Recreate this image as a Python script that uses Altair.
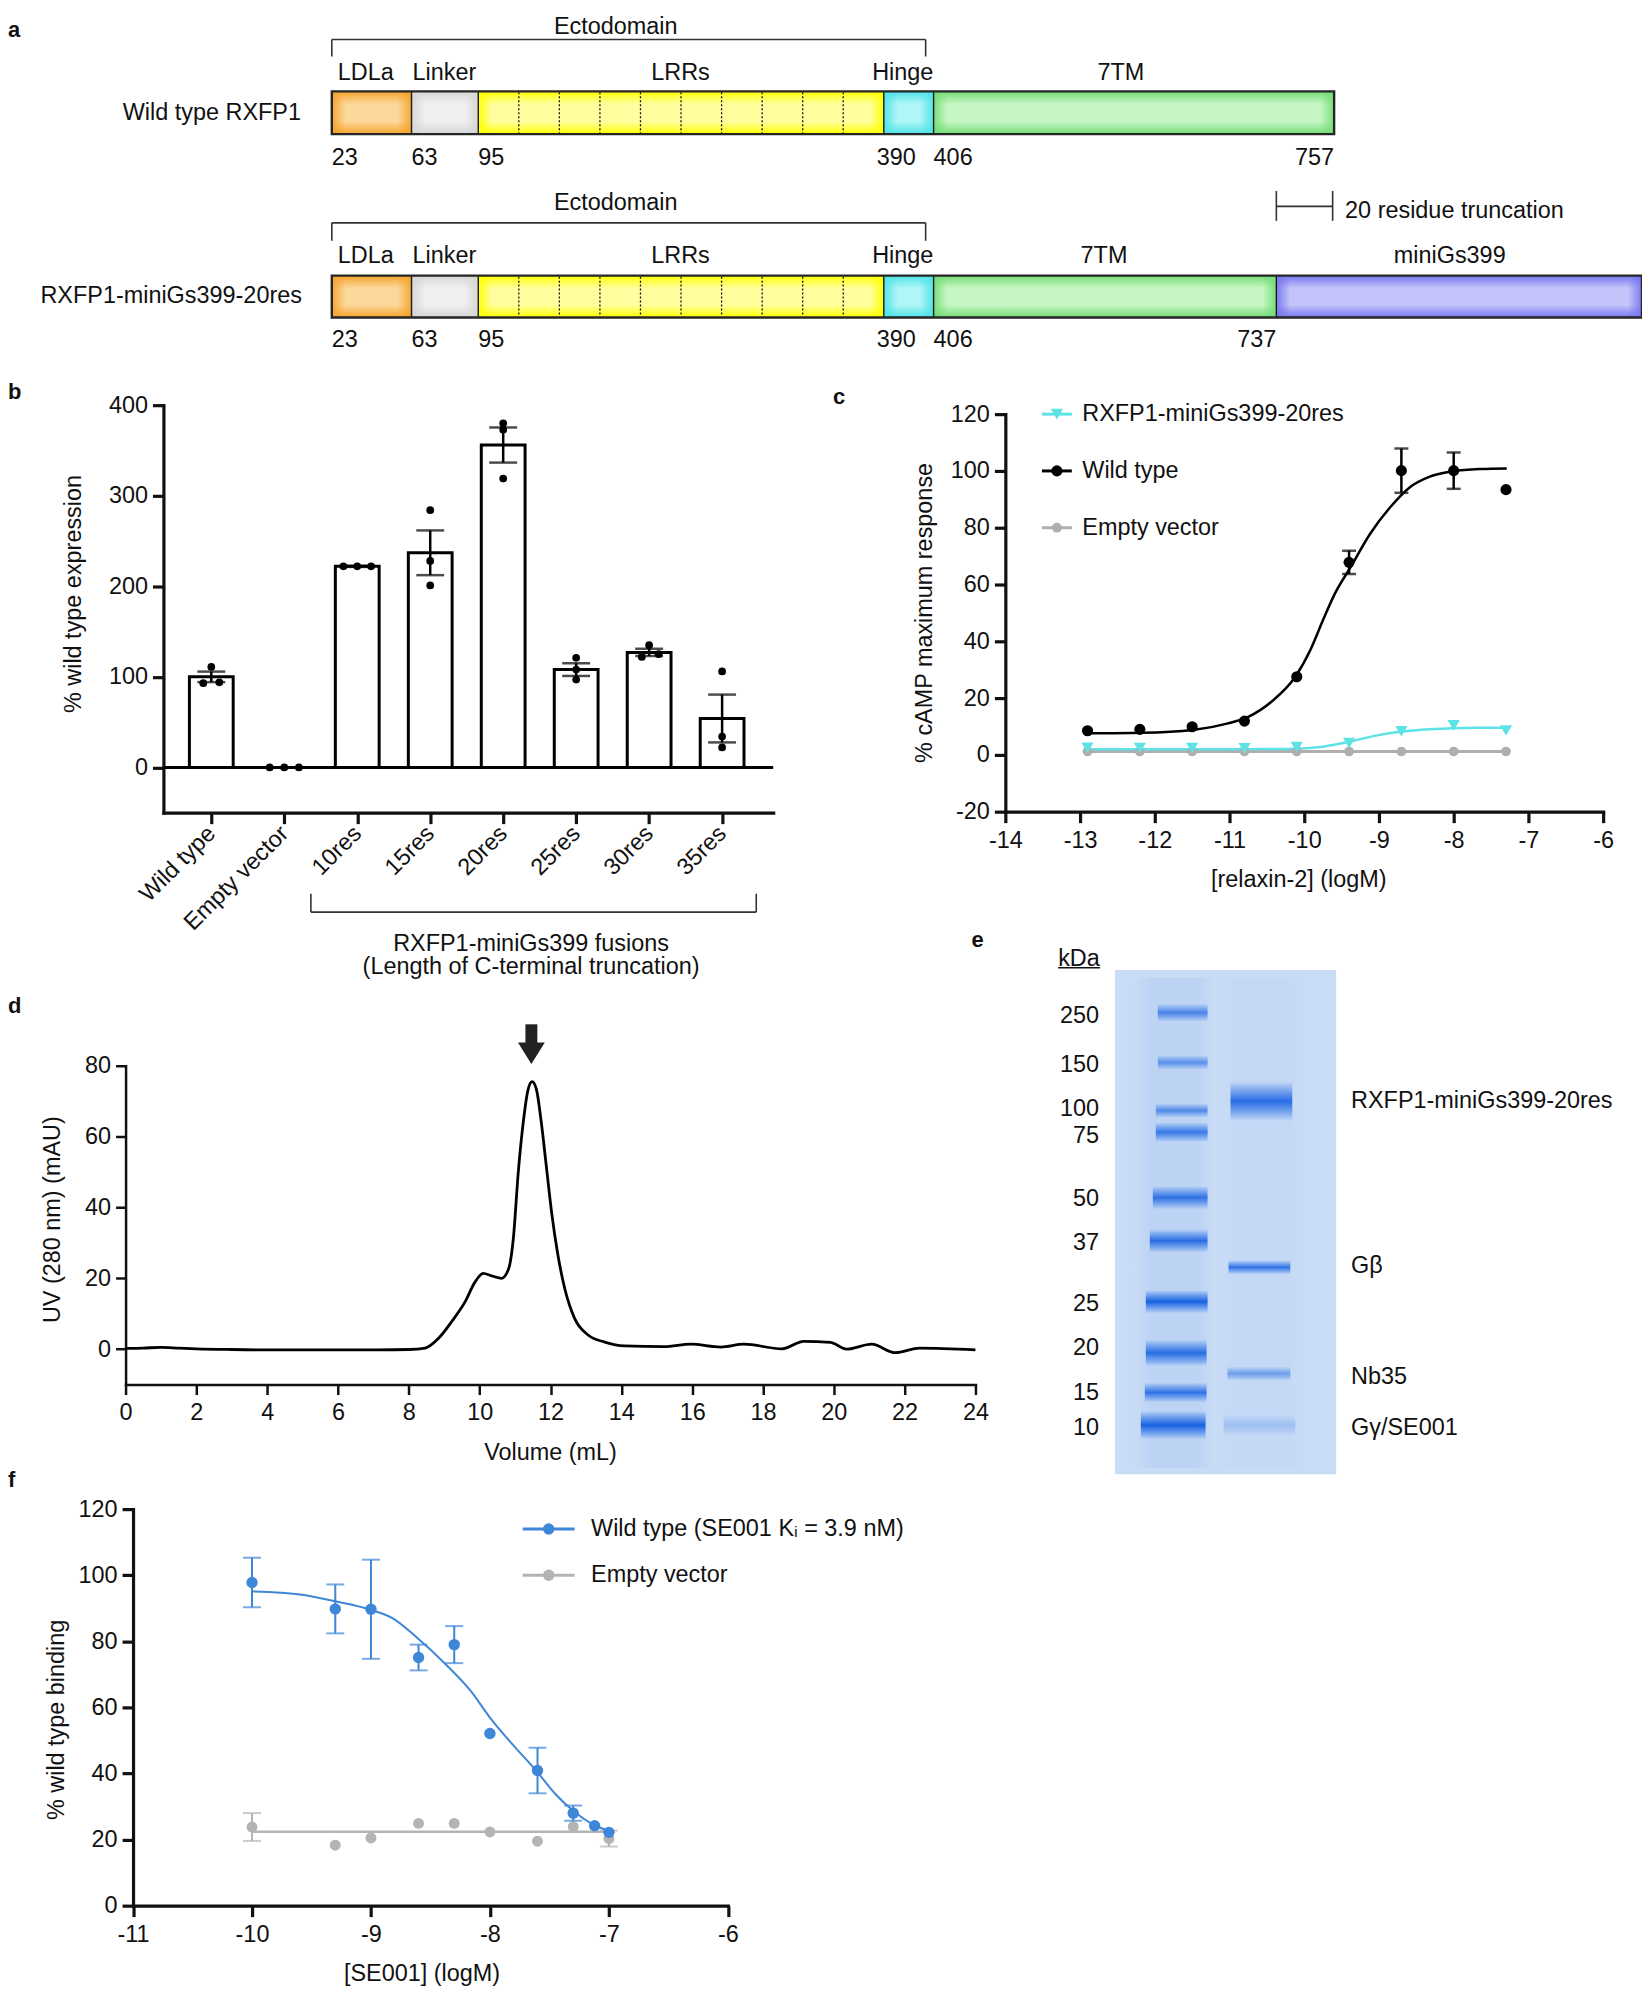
import altair as alt
import pandas as pd

FONT = "Liberation Sans"
FS = 23.5
INK = "#111111"
CYAN = "#5DE3E6"
BLUE = "#3D86D8"
GREY_C = "#AFAFAF"
GREY_F = "#B4B4B4"
W, H = 1640, 1980   # whole drawing area (page coords minus the 8px margin)

# ======================= DATA =======================
# ---- a: domain architecture ----
seg_names = ["LDLa", "Linker", "LRRs", "Hinge", "7TM", "miniGs399"]
wt_residues = [23, 63, 95, 390, 406, 757]
fusion_residues = [23, 63, 95, 390, 406, 737]
n_lrr = 10
wt_name = "Wild type RXFP1"
fusion_name = "RXFP1-miniGs399-20res"
trunc_name = "20 residue truncation"

# ---- b: expression ----
b_cats = ["Wild type", "Empty vector", "10res", "15res", "20res", "25res", "30res", "35res"]
b_mean = [100, 0, 222, 237, 356, 108, 127, 54]
b_sem = [5.8, 0, 0.6, 24.7, 19.4, 7.0, 4.0, 26.4]
b_points = [[111, 93, 94], [0, 0, 0], [222, 222, 222], [284, 228, 201],
            [380, 373, 319], [121, 108, 97], [135, 122, 125], [106, 34, 22]]
b_spread = [[0, -0.11, 0.11], [-0.2, 0, 0.2], [-0.19, 0, 0.19], [0, 0, 0],
            [0, 0, 0], [0, 0, 0], [0, -0.1, 0.13], [0, 0, 0]]

# ---- c: cAMP ----
c_logx = [-12.9, -12.2, -11.5, -10.8, -10.1, -9.4, -8.7, -8.0, -7.3]
c_wt = [8.5, 9.0, 9.9, 11.9, 27.5, 67.8, 100.1, 100.1, 93.4]
c_wt_sem = [0, 0, 0, 0, 0, 4.1, 7.8, 6.4, 0]
c_fusion = [2.5, 2.4, 2.4, 2.3, 2.8, 4.2, 8.3, 10.4, 8.6]
c_empty = [1.2, 1.2, 1.2, 1.2, 1.2, 1.2, 1.2, 1.2, 1.2]
c_wt_fit_x = [-12.89, -12.18, -11.49, -11.02, -10.75, -10.44, -10.12, -9.91, -9.75,
              -9.59, -9.38, -9.12, -8.85, -8.59, -8.32, -8.01, -7.64, -7.29]
c_wt_fit_y = [7.6, 7.8, 8.8, 11.1, 13.4, 18.7, 27.5, 37.4, 47.4,
              56.8, 66.1, 77.8, 87.2, 94.2, 98.0, 99.9, 100.7, 100.9]
c_fus_fit_x = [-12.9, -12.0, -11.0, -10.5, -10.1, -9.75, -9.38, -9.06, -8.69, -8.32, -8.01, -7.64, -7.29]
c_fus_fit_y = [2.0, 2.0, 2.0, 2.05, 2.2, 2.9, 4.7, 6.7, 8.2, 9.0, 9.4, 9.55, 9.6]
c_series = ["RXFP1-miniGs399-20res", "Wild type", "Empty vector"]

# ---- d: SEC trace ----
d_vol = [0, 0.5, 1.0, 1.5, 2.0, 3.0, 4.0, 5.0, 6.0, 7.15, 8.0, 8.46, 8.84, 9.21, 9.59, 9.87,
         10.10, 10.34, 10.62, 10.82, 10.95, 11.09, 11.23, 11.37, 11.48, 11.60, 11.74, 11.88,
         12.03, 12.21, 12.40, 12.68, 13.06, 13.53, 14.09, 15.21, 15.96, 16.81, 17.46, 18.54,
         19.15, 19.90, 20.37, 21.07, 21.73, 22.43, 24.0]
d_uv = [0.2, 0.3, 0.5, 0.3, 0.1, -0.1, -0.2, -0.2, -0.2, -0.2, -0.1, 0.3, 3.1, 7.8, 13.4, 19.0,
        21.4, 20.7, 20.0, 22.8, 31.2, 50.0, 64.0, 73.4, 75.5, 73.4, 64.0, 51.8,
        38.7, 26.5, 17.2, 8.7, 4.0, 2.0, 0.9, 0.7, 1.4, 0.6, 1.4, 0.1,
        2.2, 1.9, 0.0, 1.4, -1.0, 0.3, -0.2]
d_peak = 11.46

# ---- e: SDS-PAGE ----
ladder_kda = [250, 150, 100, 75, 50, 37, 25, 20, 15, 10]
ladder_y = [42.7, 92.7, 141, 162.7, 228.3, 271.7, 332.7, 384.3, 424, 456.7]
ladder_label_y = [46, 95, 139, 167, 230, 274, 335, 379, 424, 460]
ladder_w = [10, 8, 8, 11, 13, 13, 13, 15, 11, 16]
ladder_x1 = [43, 43, 41, 41, 38, 35, 31, 31, 30, 26]
ladder_x2 = [93, 93, 93, 93, 93, 93, 93, 92, 92, 91]
ladder_int = [0.7, 0.6, 0.65, 0.8, 0.85, 0.9, 1.0, 0.9, 0.85, 1.0]
sample_names = ["RXFP1-miniGs399-20res", "Gβ", "Nb35", "Gγ/SE001"]
sample_y = [131.7, 298.3, 405, 456.7]
sample_label_y = [131, 297, 408, 460]
sample_w = [22, 8, 8, 12]
sample_x1 = [116, 114, 113, 109]
sample_x2 = [178, 176, 176, 181]
sample_int = [0.9, 0.85, 0.5, 0.22]

# ---- f: binding ----
f_logx = [-10, -9.3, -9, -8.6, -8.3, -8, -7.6, -7.3, -7.12, -7]
f_wt = [97.8, 89.8, 89.7, 75.1, 79.0, 52.1, 40.9, 28.0, 24.2, 22.2]
f_wt_sem = [7.5, 7.4, 15.0, 3.9, 5.6, 0, 6.9, 2.3, 0, 0]
f_ev_logx = [-10, -9.3, -9, -8.6, -8.3, -8, -7.6, -7.3, -7]
f_ev = [23.8, 18.3, 20.5, 24.9, 24.9, 22.3, 19.5, 23.9, 20.3]
f_ev_sem = [4.2, 0, 0, 0, 0, 0, 0, 0, 2.4]
f_wt_fit_x = [-10, -9.58, -9.3, -9.0, -8.82, -8.61, -8.37, -8.16, -8.0, -7.81, -7.61, -7.45, -7.3, -7.14, -7.0]
f_wt_fit_y = [95.1, 94.1, 92.1, 89.5, 87.0, 81.0, 73.0, 64.9, 56.9, 48.8, 40.8, 33.8, 28.7, 24.7, 22.7]
f_ev_fit_x = [-10, -6.95]
f_ev_fit_y = [22.4, 22.4]
f_series = ["Wild type (SE001 Kᵢ = 3.9 nM)", "Empty vector"]

# ======================= HELPERS =======================
def txt(text, x, y, align="left", size=FS, bold=False, baseline="alphabetic", color=INK):
    return (alt.Chart(pd.DataFrame({"t": [text]}))
            .mark_text(font=FONT, fontSize=size, fontWeight="bold" if bold else "normal",
                       align=align, baseline=baseline, color=color)
            .encode(x=alt.value(x), y=alt.value(y), text="t:N"))


def vrule(x, y, y2, w=1.6, color="#333333"):
    return (alt.Chart(pd.DataFrame({"v": [0]})).mark_rule(strokeWidth=w, color=color)
            .encode(x=alt.value(x), y=alt.value(y), y2=alt.value(y2)))


def hrule(x, x2, y, w=1.6, color="#333333"):
    return (alt.Chart(pd.DataFrame({"v": [0]})).mark_rule(strokeWidth=w, color=color)
            .encode(x=alt.value(x), x2=alt.value(x2), y=alt.value(y)))


def mkaxis(orient, offset, values, title, tx, ty, lw=3.2, tick=11, **kw):
    p = dict(orient=orient, offset=offset, values=values, title=title, titleX=tx, titleY=ty,
             titleFont=FONT, titleFontSize=FS, titleFontWeight="normal", titleColor=INK,
             titleBaseline="alphabetic", titleAlign="center",
             labelFont=FONT, labelFontSize=FS, labelColor=INK,
             labelPadding=6 if orient == "bottom" else 5, labelFlush=False,
             labelOverlap=False, labelExpr="'' + datum.value", domainColor=INK, domainWidth=lw,
             domainCap="square", tickColor=INK, tickWidth=lw, tickSize=tick, grid=False)
    p.update(kw)
    return alt.Axis(**p)


def scale(domain, rng):
    return alt.Scale(domain=domain, range=rng, nice=False, zero=False)


def rgba(hexc, a):
    h = hexc.lstrip("#")
    return "rgba(%d,%d,%d,%s)" % (int(h[0:2], 16), int(h[2:4], 16), int(h[4:6], 16), a)


def lin(stops, horizontal=False):
    return {"gradient": "linear", "x1": 0, "y1": 0, "x2": 1 if horizontal else 0, "y2": 0 if horizontal else 1,
            "stops": [{"offset": o, "color": c} for o, c in stops]}


def caps(df, xcol, lo, hi):
    a = df[[xcol, lo]].rename(columns={lo: "v"})
    b = df[[xcol, hi]].rename(columns={hi: "v"})
    return pd.concat([a, b], ignore_index=True)

# ======================= PANEL A =======================
# schematic layout (diagram units; not to residue scale)
wt_edges = [333, 413, 480, 887, 937, 1339]
fus_edges = [333, 413, 480, 887, 937, 1281, 1648]
wt_bar = (88, 131)
fus_bar = (273, 315)
seg_colors = {
    "LDLa": ("#F4A42C", "#FDD89C"),
    "Linker": ("#D6D6D6", "#F0F0F0"),
    "LRRs": ("#FFFF00", "#FFFFA0"),
    "Hinge": ("#4FE3E8", "#B0F6F6"),
    "7TM": ("#74DD74", "#C6F6C6"),
    "miniGs399": ("#7676F0", "#C4C4FB"),
}
AX = scale([8, 1648], [0, 1640])
AY = scale([8, 403], [0, 395])


def axx(f):
    return alt.X(f, type="quantitative", scale=AX, axis=None)


def ayy(f):
    return alt.Y(f, type="quantitative", scale=AY, axis=None)


a_layers = []
bars = [(seg_names[:5], wt_edges, wt_bar), (seg_names, fus_edges, fus_bar)]
for names, edges, (top, bot) in bars:
    for i, nm in enumerate(names):
        edge, mid = seg_colors[nm]
        d = pd.DataFrame({"x": [edges[i]], "x2": [edges[i + 1]], "y": [top], "y2": [bot]})
        a_layers.append(alt.Chart(d).mark_rect(
            fill=lin([(0, edge), (0.3, mid), (0.7, mid), (1, edge)])).encode(
            x=axx("x"), x2="x2", y=ayy("y"), y2="y2"))
        f = min(0.3, 14.0 / (edges[i + 1] - edges[i]))
        a_layers.append(alt.Chart(d).mark_rect(
            fill=lin([(0, rgba(edge, 0.95)), (f, rgba(edge, 0)), (1 - f, rgba(edge, 0)), (1, rgba(edge, 0.95))],
                     horizontal=True)).encode(x=axx("x"), x2="x2", y=ayy("y"), y2="y2"))
    s, e_ = edges[2], edges[3]
    dv = pd.DataFrame({"x": [s + k * (e_ - s) / n_lrr for k in range(1, n_lrr)]})
    dv["y"] = top + 1
    dv["y2"] = bot - 1
    a_layers.append(alt.Chart(dv).mark_rule(color="#111111", strokeWidth=1.3, strokeDash=[2, 2]).encode(
        x=axx("x"), y=ayy("y"), y2="y2"))
    sp = pd.DataFrame({"x": edges[1:-1]})
    sp["y"] = top
    sp["y2"] = bot
    a_layers.append(alt.Chart(sp).mark_rule(color="#1a1a1a", strokeWidth=1.4).encode(
        x=axx("x"), y=ayy("y"), y2="y2"))
    ol = pd.DataFrame({"x": [edges[0]], "x2": [edges[-1]], "y": [top], "y2": [bot]})
    a_layers.append(alt.Chart(ol).mark_rect(fillOpacity=0, stroke="#262626", strokeWidth=2.4).encode(
        x=axx("x"), x2="x2", y=ayy("y"), y2="y2"))

br = pd.DataFrame([
    dict(x=333, x2=929, y=36, y2=36), dict(x=333, x2=333, y=36, y2=53), dict(x=929, x2=929, y=36, y2=53),
    dict(x=333, x2=929, y=220, y2=220), dict(x=333, x2=333, y=220, y2=238), dict(x=929, x2=929, y=220, y2=238),
    dict(x=fus_edges[5], x2=fus_edges[5], y=188, y2=218),
    dict(x=wt_edges[5] - 1.5, x2=wt_edges[5] - 1.5, y=188, y2=218),
    dict(x=fus_edges[5], x2=wt_edges[5] - 1.5, y=203.5, y2=203.5),
])
a_layers.append(alt.Chart(br).mark_rule(color="#333333", strokeWidth=1.6).encode(
    x=axx("x"), x2="x2", y=ayy("y"), y2="y2"))

a_text = []
for row_y, lab_y, num_y, res, last_x in [(30, 77, 162, wt_residues, wt_edges[-1]),
                                         (207, 260, 345, fusion_residues, fus_edges[5])]:
    a_text.append(dict(t="Ectodomain", x=618, y=row_y, al="center"))
    a_text.append(dict(t=seg_names[0], x=339, y=lab_y, al="left"))
    a_text.append(dict(t=seg_names[1], x=414, y=lab_y, al="left"))
    a_text.append(dict(t=seg_names[2], x=683, y=lab_y, al="center"))
    a_text.append(dict(t=seg_names[3], x=906, y=lab_y, al="center"))
    for r, xx in zip(res[:5], [333, 413, 480, 880, 937]):
        a_text.append(dict(t=str(r), x=xx, y=num_y, al="left"))
    a_text.append(dict(t=str(res[5]), x=last_x, y=num_y, al="right"))
a_text.append(dict(t=seg_names[4], x=1125, y=77, al="center"))
a_text.append(dict(t=seg_names[4], x=1108, y=260, al="center"))
a_text.append(dict(t=seg_names[5], x=1455, y=260, al="center"))
a_text.append(dict(t=trunc_name, x=1350, y=215, al="left"))
a_text.append(dict(t=wt_name, x=302, y=117, al="right"))
a_text.append(dict(t=fusion_name, x=303, y=300, al="right"))
a_tdf = pd.DataFrame(a_text)
for al in ["left", "center", "right"]:
    a_layers.append(alt.Chart(a_tdf[a_tdf["al"] == al]).mark_text(
        font=FONT, fontSize=FS, align=al, baseline="alphabetic", color=INK).encode(
        x=axx("x"), y=ayy("y"), text="t:N"))
a_layers.append(txt("a", 0, 25, bold=True, size=22))
panel_a = alt.layer(*a_layers)

# ======================= PANEL B =======================
BX = scale([-0.656, 7.70], [156, 768])
BY = scale([-50, 400], [804, 395])
b_lab = "[" + ",".join("'%s'" % c for c in b_cats) + "][datum.value]"
bxa = mkaxis("bottom", 804 - H, list(range(8)), "", 0, 0, labelExpr=b_lab, labelAngle=315,
             labelAlign="right", labelBaseline="middle", labelPadding=6)
bya = mkaxis("left", -156, [0, 100, 200, 300, 400], "% wild type expression", -83, 584)


def bxx(f):
    return alt.X(f, type="quantitative", scale=BX, axis=bxa)


def byy(f):
    return alt.Y(f, type="quantitative", scale=BY, axis=bya)


bdf = pd.DataFrame({"idx": list(range(8)), "mval": b_mean, "err": b_sem})
bdf["lo"] = bdf["idx"] - 0.30
bdf["hi"] = bdf["idx"] + 0.30
bdf["base"] = 0
bdf["elo"] = bdf["mval"] - bdf["err"]
bdf["ehi"] = bdf["mval"] + bdf["err"]
berr = bdf[bdf["err"] > 0]
bcap = caps(berr, "idx", "elo", "ehi")
bdots = pd.DataFrame([dict(px=i + s, v=v) for i in range(8) for v, s in zip(b_points[i], b_spread[i])])
zdf = pd.DataFrame({"x": [-0.656], "x2": [7.70], "y": [0]})

b_layers = [
    alt.Chart(bdf).mark_rect(fill="white", stroke="black", strokeWidth=3).encode(
        x=bxx("lo"), x2="hi", y=byy("base"), y2="mval"),
    alt.Chart(zdf).mark_rule(color="black", strokeWidth=3).encode(x=bxx("x"), x2="x2", y=byy("y")),
    alt.Chart(berr).mark_rule(color="black", strokeWidth=2.5).encode(x=bxx("idx"), y=byy("elo"), y2="ehi"),
    alt.Chart(bcap).mark_tick(orient="horizontal", size=28, thickness=2.5, color="black").encode(
        x=bxx("idx"), y=byy("v")),
    alt.Chart(bdots).mark_point(filled=True, size=60, color="black", opacity=1).encode(
        x=bxx("px"), y=byy("v")),
    hrule(304, 751, 903.8), vrule(304, 885.4, 903.8), vrule(751, 885.4, 903.8),
    txt("RXFP1-miniGs399 fusions", 525, 943, align="center"),
    txt("(Length of C-terminal truncation)", 525, 966, align="center"),
    txt("b", 0, 389, bold=True, size=22),
]
panel_b = alt.layer(*b_layers)

# ======================= PANEL C =======================
CX = scale([-14, -6], [1001, 1601])
CY = scale([-20, 120], [803, 404])
cxa = mkaxis("bottom", 803 - H, list(range(-14, -5)), "[relaxin-2] (logM)", 1295, 75)
cya = mkaxis("left", -1001, list(range(-20, 121, 20)), "% cAMP maximum response", -74, 603)


def cxx(f):
    return alt.X(f, type="quantitative", scale=CX, axis=cxa)


def cyy(f):
    return alt.Y(f, type="quantitative", scale=CY, axis=cya)


cdf = pd.DataFrame({"x": c_logx, "wt": c_wt, "err": c_wt_sem, "fus": c_fusion, "ev": c_empty})
cdf["lo"] = cdf["wt"] - cdf["err"]
cdf["hi"] = cdf["wt"] + cdf["err"]
cerr = cdf[cdf["err"] > 0]
ccap = caps(cerr, "x", "lo", "hi")
cwf = pd.DataFrame({"x": c_wt_fit_x, "y": c_wt_fit_y})
cff = pd.DataFrame({"x": c_fus_fit_x, "y": c_fus_fit_y})

c_layers = [
    alt.Chart(cdf).mark_line(color=GREY_C, strokeWidth=3).encode(x=cxx("x"), y=cyy("ev")),
    alt.Chart(cff).mark_line(color=CYAN, strokeWidth=2.5, interpolate="monotone").encode(x=cxx("x"), y=cyy("y")),
    alt.Chart(cdf).mark_point(filled=True, size=95, color=GREY_C, opacity=1).encode(x=cxx("x"), y=cyy("ev")),
    alt.Chart(cdf).mark_point(filled=True, size=150, color=CYAN, opacity=1, shape="triangle-down").encode(
        x=cxx("x"), y=cyy("fus")),
    alt.Chart(cwf).mark_line(color="black", strokeWidth=2.5, interpolate="monotone").encode(x=cxx("x"), y=cyy("y")),
    alt.Chart(cerr).mark_rule(color="black", strokeWidth=2.5).encode(x=cxx("x"), y=cyy("lo"), y2="hi"),
    alt.Chart(ccap).mark_tick(orient="horizontal", size=14, thickness=2.5, color="black").encode(
        x=cxx("x"), y=cyy("v")),
    alt.Chart(cdf).mark_point(filled=True, size=125, color="black", opacity=1).encode(x=cxx("x"), y=cyy("wt")),
]
c_leg = [(c_series[0], CYAN, "triangle-down", 150, 120), (c_series[1], "black", "circle", 125, 100),
         (c_series[2], GREY_C, "circle", 95, 80)]
for name, col, shp, sz, yy in c_leg:
    ld = pd.DataFrame({"x": [-13.51], "x2": [-13.11], "xm": [-13.31], "xt": [-12.97], "y": [yy], "t": [name]})
    c_layers.append(alt.Chart(ld).mark_rule(color=col, strokeWidth=3).encode(x=cxx("x"), x2="x2", y=cyy("y")))
    c_layers.append(alt.Chart(ld).mark_point(filled=True, size=sz, color=col, shape=shp, opacity=1).encode(
        x=cxx("xm"), y=cyy("y")))
    c_layers.append(alt.Chart(ld).mark_text(font=FONT, fontSize=FS, align="left", baseline="middle",
                                            color=INK).encode(x=cxx("xt"), y=cyy("y"), text="t:N"))
c_layers.append(txt("c", 828, 394, bold=True, size=22))
panel_c = alt.layer(*c_layers)

# ======================= PANEL D =======================
DX = scale([0, 24], [118, 971])
DY = scale([-10, 80], [1378, 1058])
dxa = mkaxis("bottom", 1378 - H, list(range(0, 25, 2)), "Volume (mL)", 544, 75, lw=2.5, tick=10)
dya = mkaxis("left", -118, [0, 20, 40, 60, 80], "UV (280 nm) (mAU)", -66, 1212, lw=2.5, tick=10)


def dxx(f):
    return alt.X(f, type="quantitative", scale=DX, axis=dxa)


def dyy(f):
    return alt.Y(f, type="quantitative", scale=DY, axis=dya)


ddf = pd.DataFrame({"x": d_vol, "y": d_uv})
arr = pd.DataFrame({"x": [d_peak], "y": [86.0], "y2": [91.7], "yh": [83.5]})
d_layers = [
    alt.Chart(ddf).mark_line(color="black", strokeWidth=2.8, interpolate="monotone").encode(x=dxx("x"), y=dyy("y")),
    alt.Chart(arr).mark_rule(color="#222222", strokeWidth=12).encode(x=dxx("x"), y=dyy("y"), y2="y2"),
    alt.Chart(arr).mark_point(shape="M-1,-0.8L1,-0.8L0,0.8Z", filled=True, size=729, color="#222222",
                              opacity=1).encode(x=dxx("x"), y=dyy("yh")),
    txt("d", 0, 1005, bold=True, size=22),
]
panel_d = alt.layer(*d_layers)

# ======================= PANEL E =======================
EX = scale([0, 222], [1111, 1333])
EY = scale([0, 506], [962, 1468])


def exx(f):
    return alt.X(f, type="quantitative", scale=EX, axis=None)


def eyy(f):
    return alt.Y(f, type="quantitative", scale=EY, axis=None)


gel = pd.DataFrame({"x": [0], "x2": [222], "y": [0], "y2": [506]})
lanes = pd.DataFrame({"x": [20, 104], "x2": [100, 188], "y": [8, 8], "y2": [500, 500], "a": [0.3, 0.12]})
bands = pd.DataFrame({
    "x": ladder_x1 + sample_x1, "x2": ladder_x2 + sample_x2,
    "yc": ladder_y + sample_y, "w": ladder_w + sample_w, "i": ladder_int + sample_int})
bands["y"] = bands["yc"] - bands["w"] * 0.9
bands["y2"] = bands["yc"] + bands["w"] * 0.9
band_grad = lin([(0, "rgba(28,104,230,0)"), (0.25, "rgba(28,104,230,0.55)"), (0.5, "rgba(22,96,226,1)"),
                 (0.75, "rgba(28,104,230,0.55)"), (1, "rgba(28,104,230,0)")])
lane_grad = lin([(0, "rgba(160,192,240,0)"), (0.2, "rgba(160,192,240,1)"), (0.8, "rgba(160,192,240,1)"),
                 (1, "rgba(160,192,240,0)")], horizontal=True)
kda = pd.DataFrame({"t": [str(k) for k in ladder_kda], "y": ladder_label_y})
kda["x"] = -16
slab = pd.DataFrame({"t": sample_names, "y": sample_label_y})
slab["x"] = 237
e_layers = [
    alt.Chart(gel).mark_rect(fill="#C9DCF6").encode(x=exx("x"), x2="x2", y=eyy("y"), y2="y2"),
    alt.Chart(lanes).mark_rect(fill=lane_grad).encode(x=exx("x"), x2="x2", y=eyy("y"), y2="y2",
                                                      opacity=alt.Opacity("a:Q", scale=None)),
    alt.Chart(bands).mark_rect(fill=band_grad).encode(x=exx("x"), x2="x2", y=eyy("y"), y2="y2",
                                                      opacity=alt.Opacity("i:Q", scale=None)),
    alt.Chart(kda).mark_text(font=FONT, fontSize=FS, align="right", baseline="middle", color=INK).encode(
        x=exx("x"), y=eyy("y"), text="t:N"),
    alt.Chart(slab).mark_text(font=FONT, fontSize=FS, align="left", baseline="middle", color=INK).encode(
        x=exx("x"), y=eyy("y"), text="t:N"),
    txt("kDa", 1054, 957.7),
    hrule(1054, 1096, 959.7, w=1.5, color=INK),
    txt("e", 967, 939, bold=True, size=22),
]
panel_e = alt.layer(*e_layers)

# ======================= PANEL F =======================
FXS = scale([-11, -6], [125.5, 722.5])
FYS = scale([0, 120], [1901, 1503])
fxa = mkaxis("bottom", 1901 - H, list(range(-11, -5)), "[SE001] (logM)", 415, 75)
fya = mkaxis("left", -125.5, list(range(0, 121, 20)), "% wild type binding", -70, 1714)


def fxx(f):
    return alt.X(f, type="quantitative", scale=FXS, axis=fxa)


def fyy(f):
    return alt.Y(f, type="quantitative", scale=FYS, axis=fya)


fw = pd.DataFrame({"x": f_logx, "y": f_wt, "s": f_wt_sem})
fw["lo"] = fw["y"] - fw["s"]
fw["hi"] = fw["y"] + fw["s"]
fwe = fw[fw["s"] > 0]
fwc = caps(fwe, "x", "lo", "hi")
fe = pd.DataFrame({"x": f_ev_logx, "y": f_ev, "s": f_ev_sem})
fe["lo"] = fe["y"] - fe["s"]
fe["hi"] = fe["y"] + fe["s"]
fee = fe[fe["s"] > 0]
fec = caps(fee, "x", "lo", "hi")
fwfit = pd.DataFrame({"x": f_wt_fit_x, "y": f_wt_fit_y})
fefit = pd.DataFrame({"x": f_ev_fit_x, "y": f_ev_fit_y})

f_layers = [
    alt.Chart(fefit).mark_line(color=GREY_F, strokeWidth=2.5).encode(x=fxx("x"), y=fyy("y")),
    alt.Chart(fee).mark_rule(color=GREY_F, strokeWidth=2).encode(x=fxx("x"), y=fyy("lo"), y2="hi"),
    alt.Chart(fec).mark_tick(orient="horizontal", size=18, thickness=2, color=GREY_F).encode(x=fxx("x"), y=fyy("v")),
    alt.Chart(fe).mark_point(filled=True, size=120, color=GREY_F, opacity=1).encode(x=fxx("x"), y=fyy("y")),
    alt.Chart(fwfit).mark_line(color=BLUE, strokeWidth=2, interpolate="monotone").encode(x=fxx("x"), y=fyy("y")),
    alt.Chart(fwe).mark_rule(color=BLUE, strokeWidth=2).encode(x=fxx("x"), y=fyy("lo"), y2="hi"),
    alt.Chart(fwc).mark_tick(orient="horizontal", size=18, thickness=2, color=BLUE).encode(x=fxx("x"), y=fyy("v")),
    alt.Chart(fw).mark_point(filled=True, size=130, color=BLUE, opacity=1).encode(x=fxx("x"), y=fyy("y")),
]
for name, col, yy in [(f_series[0], BLUE, 114), (f_series[1], GREY_F, 100)]:
    ld = pd.DataFrame({"x": [-7.725], "x2": [-7.288], "xm": [-7.506], "xt": [-7.15], "y": [yy], "t": [name]})
    f_layers.append(alt.Chart(ld).mark_rule(color=col, strokeWidth=3).encode(x=fxx("x"), x2="x2", y=fyy("y")))
    f_layers.append(alt.Chart(ld).mark_point(filled=True, size=130, color=col, opacity=1).encode(
        x=fxx("xm"), y=fyy("y")))
    f_layers.append(alt.Chart(ld).mark_text(font=FONT, fontSize=FS, align="left", baseline="middle",
                                            color=INK).encode(x=fxx("xt"), y=fyy("y"), text="t:N"))
f_layers.append(txt("f", 0, 1481, bold=True, size=22))
panel_f = alt.layer(*f_layers)

# ======================= FIGURE =======================
chart = (alt.layer(panel_a, panel_b, panel_c, panel_d, panel_e, panel_f)
         .resolve_scale(x="independent", y="independent")
         .properties(width=W, height=H, padding=0, background="white",
                     autosize=alt.AutoSizeParams(type="none"))
         .configure_view(stroke=None))
chart.save("out.html", embed_options={"renderer": "svg", "actions": False})
